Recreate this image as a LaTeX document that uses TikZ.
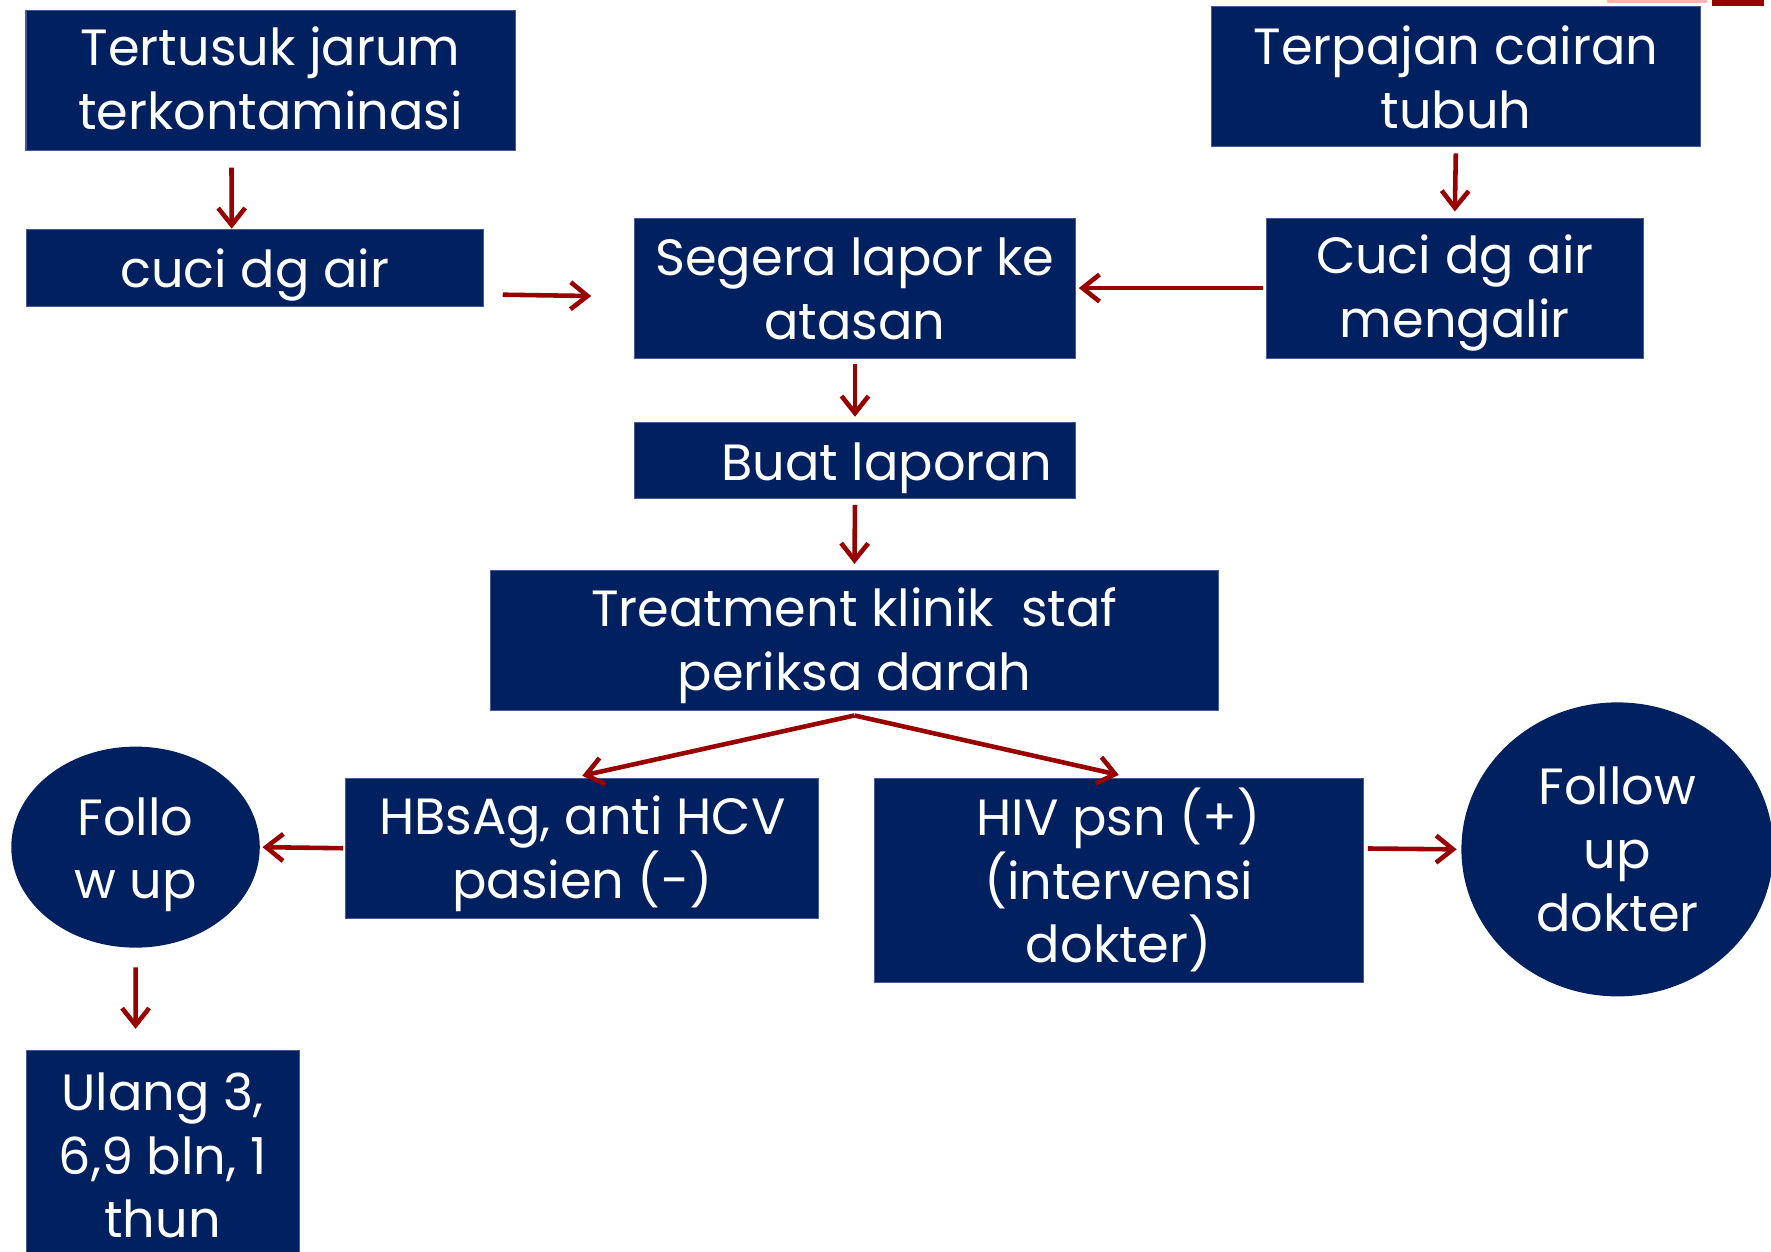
\documentclass[tikz,border=0pt]{standalone}
\usepackage{fontspec}
\setmainfont{Poppins}
\usepackage{xcolor}
\usetikzlibrary{shapes.geometric, arrows.meta, positioning}

\definecolor{navy}{RGB}{0,32,96}
\definecolor{navyedge}{RGB}{70,90,150}
\definecolor{darkred}{RGB}{153,0,0}
% struts for the text lines
\newcommand{\boxstrut}{\rule[-2.8pt]{0pt}{17.9pt}}
\newcommand{\topline}{\rule{0pt}{14pt}}

\tikzset{
  box/.style={rectangle, fill=navy, draw=navyedge, line width=0.3pt, text=white,
    align=center, inner sep=0pt, font=\fontsize{14.5}{18.1}\selectfont,
    execute at end node=\rule[-2.8pt]{0pt}{0pt}},
  single/.style={execute at begin node=\boxstrut, execute at end node=\boxstrut},
  oval/.style={ellipse, fill=navy, text=white, align=center, inner sep=0pt,
    font=\fontsize{14.5}{18.1}\selectfont},
  arr/.style={draw=darkred, line width=1.3pt,
    -{Straight Barb[length=1.7mm,width=2.7mm,line width=1.3pt]}}
}

\begin{document}
\begin{tikzpicture}[x=0.11295mm, y=-0.11295mm]
\clip (0,0) rectangle (1568,1108);
\fill[white] (0,0) rectangle (1568,1108);
% pieces cut off at the top right corner
\draw[red!30, line width=1pt, line cap=round] (1424,1) -- (1510,1);
\fill[darkred] (1516,0) rectangle (1562,5);

% first row
\node[box, minimum width=48.9mm, minimum height=14.0mm] (tertusuk) at (239.5,71) {\rule{0pt}{12.8pt}Tertusuk jarum\\terkontaminasi};
\node[box, minimum width=48.9mm, minimum height=14.0mm] (terpajan) at (1289,68) {\topline Terpajan cairan\\tubuh};
% second row
\node[box, single, minimum width=45.7mm, minimum height=7.7mm] (cuci) at (225.5,237) {cuci dg air};
\node[box, minimum width=44.05mm, minimum height=14.0mm] (segera) at (757,255) {\topline Segera lapor ke\\atasan};
\node[box, minimum width=37.7mm, minimum height=14.0mm] (mengalir) at (1288,255) {\topline Cuci dg air\\mengalir};
% middle column
\node[box, single, minimum width=44.05mm, minimum height=7.6mm] (buat) at (757,407.5) {\hspace*{6.3mm}Buat laporan};
\node[box, minimum width=72.85mm, minimum height=14.0mm] (treatment) at (756.5,567) {\topline Treatment klinik\ \ staf\\periksa darah};
% results
\node[box, minimum width=47.3mm, minimum height=14.0mm] (hbsag) at (515.5,751) {\topline HBsAg, anti HCV\\pasien (-)};
\node[box, minimum width=48.9mm, minimum height=20.4mm] (hiv) at (990.5,779.5) {HIV psn (+)\\(intervensi\\dokter)};
% follow up
\node[oval, minimum width=24.85mm, minimum height=20.1mm] (follo) at (120,750) {\rule{0pt}{15pt}Follo\\w up};
\node[oval, minimum width=31.2mm, minimum height=29.4mm] (dokter) at (1432,752) {Follow\\up\\dokter};
\node[box, minimum width=27.3mm, minimum height=20.8mm] (ulang) at (144,1022) {\topline Ulang 3,\\6,9 bln, 1\\thun};

% arrows
\draw[arr] ([xshift=-3.9mm,yshift=-1.7mm]tertusuk.south) -- ([xshift=-2.3mm]cuci.north);
\draw[arr] ([xshift=1.9mm,yshift=-2.7mm]cuci.east) -- ([xshift=-4.3mm,yshift=-0.8mm]segera.west);
\draw[arr, shorten <=0.6mm, shorten >=0.6mm] (terpajan.south) -- (mengalir.north);
\draw[arr, shorten >=0.3mm] ([xshift=-0.3mm]mengalir.west) -- (segera.east);
\draw[arr, shorten <=0.5mm, shorten >=0.5mm] (segera.south) -- (buat.north);
\draw[arr, shorten <=0.6mm, shorten >=0.6mm] (buat.south) -- (treatment.north);
\draw[arr] ([yshift=-0.45mm]treatment.south) -- ([yshift=0.2mm]hbsag.north);
\draw[arr] ([yshift=-0.45mm]treatment.south) -- ([yshift=0.3mm]hiv.north);
\draw[arr, shorten <=0.2mm, shorten >=0.2mm] (hbsag.west) -- (follo.east);
\draw[arr] ([yshift=-1.9mm]follo.south) -- ([xshift=-2.7mm,yshift=2.1mm]ulang.north);
\draw[arr, shorten <=0.4mm, shorten >=0.4mm] ([yshift=3.2mm]hiv.east) -- (dokter.west);
\end{tikzpicture}
\end{document}
